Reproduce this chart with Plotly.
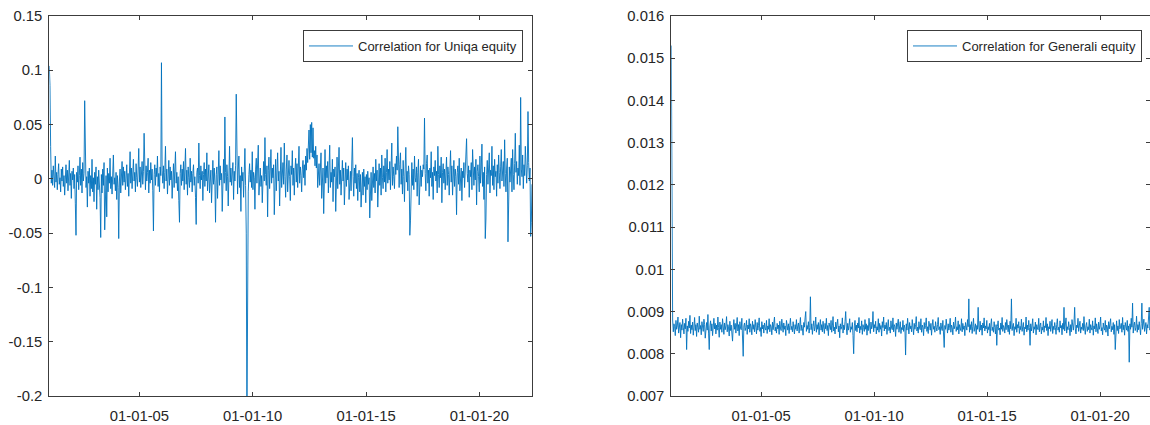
import pandas as pd
import plotly.graph_objects as go

# ---------------- data ----------------
date_start = "2001-01-10"
date_end = "2022-04-29"
n_points = 724

uniqa = [
    0.104, 0.086, 0.030, -0.004, 0.008, -0.006, 0.012, 0.002, -0.008, 0.021, -0.003, 0.006, -0.010, 0.004, 0.014, -0.005, 0.001, -0.012, 0.009, -0.002,
    0.011, -0.007, 0.003, -0.015, 0.006, 0.013, -0.004, 0.008, -0.011, 0.002, 0.017, -0.006, 0.005, -0.018, 0.007, -0.001, 0.010, -0.009, 0.004, -0.023,
    -0.052, 0.006, -0.003, 0.012, -0.010, 0.003, 0.020, -0.006, 0.009, -0.013, 0.015, -0.002, 0.005, 0.072, 0.011, -0.008, 0.002, -0.026, 0.007, -0.004,
    0.010, -0.016, 0.003, -0.009, 0.018, -0.012, 0.001, -0.021, 0.006, -0.005, 0.011, -0.028, 0.002, -0.010, 0.008, -0.003, -0.017, -0.054, 0.004, -0.013,
    0.009, -0.006, 0.015, -0.047, -0.008, 0.003, -0.035, 0.010, -0.012, 0.005, -0.004, 0.019, -0.009, 0.002, -0.014, 0.007, 0.022, -0.005, 0.001, -0.011,
    0.006, -0.019, 0.003, -0.008, -0.055, -0.002, 0.009, -0.013, 0.004, 0.016, -0.006, 0.011, -0.003, 0.007, -0.010, 0.002, 0.013, -0.007, 0.005, -0.016,
    0.008, 0.025, -0.004, 0.010, -0.009, 0.003, 0.018, -0.002, 0.006, -0.012, 0.014, 0.001, -0.007, 0.009, 0.028, -0.003, 0.011, -0.008, 0.004, 0.016,
    -0.005, 0.007, 0.042, 0.003, -0.010, 0.012, -0.002, 0.006, 0.019, -0.013, 0.008, -0.004, 0.015, -0.001, 0.009, -0.011, -0.048, 0.004, 0.013, -0.006,
    0.010, 0.002, 0.021, -0.007, 0.005, -0.012, 0.011, 0.003, 0.107, 0.008, -0.004, 0.012, -0.009, 0.006, 0.030, -0.002, 0.009, -0.014, 0.004, 0.017,
    -0.006, 0.011, -0.001, 0.007, -0.018, 0.003, 0.014, -0.008, 0.010, 0.025, -0.004, 0.006, -0.011, 0.002, -0.020, -0.040, 0.005, 0.013, -0.006, 0.009,
    -0.002, 0.016, -0.010, 0.004, 0.028, -0.005, 0.008, -0.015, 0.011, 0.001, -0.008, 0.019, -0.003, 0.007, -0.012, 0.005, 0.013, -0.006, 0.002, -0.017,
    -0.042, 0.006, 0.010, -0.004, 0.033, 0.003, -0.009, 0.012, -0.001, 0.007, -0.020, 0.004, 0.015, -0.007, 0.009, -0.002, 0.024, -0.011, 0.005, 0.013,
    -0.013, 0.002, 0.008, -0.022, 0.006, 0.017, -0.005, 0.010, -0.003, -0.040, 0.004, 0.011, -0.018, 0.007, 0.026, -0.006, 0.012, -0.001, 0.005, -0.030,
    0.009, 0.018, -0.004, 0.057, 0.006, -0.011, 0.013, 0.002, -0.025, 0.008, 0.030, -0.003, 0.010, -0.006, 0.004, 0.015, -0.019, 0.007, -0.002, 0.012,
    0.078, 0.005, -0.014, 0.009, 0.021, -0.008, 0.003, -0.030, 0.011, -0.002, 0.006, -0.017, 0.014, 0.028, -0.006, -0.050, -0.230, -0.020, -0.012, 0.004,
    0.014, -0.003, 0.008, -0.008, 0.025, -0.010, 0.006, 0.001, -0.028, 0.009, 0.019, -0.004, 0.011, 0.031, -0.015, 0.005, 0.010, -0.007, 0.003, -0.022,
    0.007, 0.016, -0.002, 0.038, 0.004, -0.006, 0.012, -0.035, 0.008, 0.020, -0.009, 0.005, 0.027, -0.004, 0.010, 0.001, 0.013, -0.033, 0.006, 0.018,
    -0.011, 0.009, 0.024, -0.002, 0.007, -0.025, 0.011, 0.029, -0.008, 0.004, 0.015, -0.005, 0.033, 0.002, -0.017, 0.009, 0.022, -0.012, 0.006, 0.017,
    0.002, -0.020, 0.012, 0.004, 0.026, -0.006, 0.010, -0.015, 0.008, 0.019, -0.003, 0.014, -0.008, 0.006, 0.030, -0.004, 0.011, 0.003, -0.012, 0.009,
    0.017, 0.001, 0.013, -0.006, 0.021, 0.008, 0.028, 0.015, 0.035, 0.045, 0.018, 0.050, 0.024, 0.052, 0.020, 0.047, 0.019, 0.026, 0.012, 0.030,
    0.010, 0.022, -0.008, 0.004, 0.014, -0.006, 0.009, 0.024, -0.018, 0.003, 0.010, -0.032, 0.007, 0.027, -0.004, 0.012, 0.001, 0.016, -0.013, 0.005,
    0.031, -0.008, 0.006, -0.003, 0.018, -0.021, 0.009, 0.002, 0.011, -0.030, 0.005, 0.020, -0.009, 0.013, 0.029, -0.005, 0.008, -0.015, 0.003, 0.017,
    -0.002, 0.010, -0.024, 0.004, 0.015, -0.007, 0.009, -0.001, 0.012, -0.019, 0.003, 0.007, -0.011, 0.006, 0.038, 0.002, -0.016, 0.010, -0.004, 0.013,
    -0.009, 0.005, -0.020, 0.001, 0.008, -0.012, 0.004, -0.026, -0.003, 0.006, -0.015, 0.009, -0.007, 0.002, -0.022, 0.004, -0.010, 0.007, -0.005, 0.001,
    -0.036, -0.004, 0.006, -0.020, 0.002, 0.011, -0.008, 0.005, -0.013, 0.018, -0.002, 0.008, -0.026, 0.004, 0.014, -0.006, 0.010, -0.015, 0.022, 0.001,
    -0.009, 0.012, -0.003, 0.019, -0.012, 0.006, 0.027, -0.004, 0.009, -0.001, 0.016, -0.010, 0.005, 0.033, -0.006, 0.011, 0.002, -0.009, 0.014, 0.004,
    0.021, 0.008, 0.048, 0.006, -0.008, 0.013, 0.024, -0.005, 0.009, -0.014, 0.017, 0.002, -0.021, 0.010, 0.029, -0.003, 0.007, -0.011, 0.012, 0.004,
    -0.052, -0.038, 0.003, 0.015, -0.006, 0.009, -0.010, 0.021, 0.001, -0.003, 0.011, -0.016, 0.006, 0.018, -0.024, 0.004, 0.012, -0.007, 0.008, 0.002,
    0.013, 0.009, 0.056, 0.005, -0.011, 0.014, 0.022, -0.004, 0.008, -0.016, 0.010, 0.001, 0.025, -0.007, 0.006, -0.019, 0.011, 0.003, 0.017, -0.002,
    0.007, -0.013, 0.030, 0.004, -0.008, 0.012, 0.001, 0.020, -0.022, 0.006, 0.014, -0.004, 0.009, -0.010, 0.002, 0.020, -0.006, 0.011, 0.004, -0.015,
    0.008, 0.026, -0.003, 0.012, -0.015, 0.005, 0.017, -0.007, 0.009, 0.002, -0.033, 0.006, 0.012, -0.005, 0.019, -0.011, 0.004, 0.010, -0.020, 0.007,
    0.001, 0.015, -0.008, 0.010, 0.023, 0.037, 0.005, -0.003, 0.012, -0.017, 0.008, 0.002, 0.015, -0.010, 0.027, 0.004, -0.006, 0.011, -0.001, 0.018,
    -0.024, 0.007, 0.013, 0.002, -0.012, 0.021, -0.004, 0.009, 0.032, -0.007, 0.006, -0.019, 0.011, -0.055, -0.037, 0.004, 0.017, -0.005, 0.010, 0.024,
    -0.013, 0.008, 0.003, 0.030, -0.006, 0.012, -0.010, 0.018, 0.002, 0.007, -0.016, 0.013, -0.004, 0.022, 0.006, -0.009, 0.011, 0.027, -0.002, 0.009,
    0.016, -0.007, 0.036, 0.005, -0.012, 0.010, 0.019, -0.058, 0.003, 0.011, -0.003, 0.008, 0.019, -0.012, 0.027, 0.004, -0.010, 0.014, 0.042, 0.006,
    0.016, -0.005, 0.010, 0.003, 0.031, -0.006, 0.075, 0.009, 0.002, 0.022, -0.009, 0.013, 0.003, 0.030, 0.008, -0.004, 0.012, 0.062, 0.015, -0.002,
    0.010, -0.053, -0.040, -0.005,
]

generali = [
    0.0153, 0.0114, 0.0088, 0.00852, 0.00871, 0.00864, 0.00843, 0.00879, 0.00858, 0.00866, 0.00887, 0.00849, 0.00861, 0.00874, 0.00838, 0.00869, 0.00856, 0.00882, 0.00863, 0.00847,
    0.00872, 0.00859, 0.00884, 0.0081, 0.00866, 0.00853, 0.00877, 0.00861, 0.00891, 0.00848, 0.00868, 0.00857, 0.00875, 0.00844, 0.00863, 0.00886, 0.00855, 0.00869, 0.00841, 0.00873,
    0.00862, 0.00851, 0.00889, 0.00858, 0.00867, 0.00845, 0.00876, 0.00864, 0.00853, 0.00882, 0.00869, 0.00837, 0.00861, 0.00874, 0.00856, 0.00893, 0.00849, 0.0081, 0.00866, 0.00878,
    0.00854, 0.00871, 0.00843, 0.00865, 0.00884, 0.00859, 0.00872, 0.00847, 0.00868, 0.00856, 0.00887, 0.00862, 0.00839, 0.00875, 0.00858, 0.00869, 0.00851, 0.00883, 0.00864, 0.00846,
    0.00873, 0.00857, 0.00866, 0.00888, 0.00852, 0.00869, 0.00861, 0.00842, 0.00877, 0.00855, 0.00868, 0.00834, 0.0083, 0.00863, 0.00881, 0.00858, 0.00872, 0.00849, 0.00865, 0.00886,
    0.00854, 0.00869, 0.00843, 0.00876, 0.00861, 0.00857, 0.00884, 0.00848, 0.00794, 0.00866, 0.00873, 0.00855, 0.00862, 0.00879, 0.00846, 0.00868, 0.00859, 0.00883, 0.00851, 0.00871,
    0.00864, 0.00845, 0.00877, 0.00858, 0.00869, 0.00852, 0.00881, 0.00863, 0.00847, 0.00874, 0.00856, 0.00867, 0.00885, 0.00853, 0.00862, 0.00841, 0.00876, 0.00859, 0.00868, 0.00849,
    0.00873, 0.00861, 0.00856, 0.00879, 0.00848, 0.00866, 0.00858, 0.00883, 0.00852, 0.00869, 0.00864, 0.00845, 0.00875, 0.00857, 0.00867, 0.00887, 0.00854, 0.00863, 0.00849, 0.00872,
    0.00859, 0.00868, 0.00846, 0.00877, 0.00861, 0.00855, 0.00882, 0.00864, 0.00851, 0.00873, 0.00858, 0.00866, 0.00843, 0.00879, 0.00862, 0.00856, 0.00871, 0.00848, 0.00867, 0.00884,
    0.00857, 0.00865, 0.00852, 0.00876, 0.00861, 0.00847, 0.00869, 0.00858, 0.00881, 0.00854, 0.00866, 0.00873, 0.00849, 0.00862, 0.00886, 0.00855, 0.00868, 0.00859, 0.00844, 0.00874,
    0.00863, 0.00885, 0.0090, 0.00853, 0.00867, 0.00858, 0.00876, 0.00849, 0.00862, 0.00935, 0.00857, 0.00871, 0.00846, 0.00865, 0.00878, 0.00854, 0.00863, 0.00887, 0.00851, 0.00869,
    0.00858, 0.00874, 0.00845, 0.00866, 0.00881, 0.00856, 0.00869, 0.00852, 0.00877, 0.00861, 0.00848, 0.00872, 0.00859, 0.00884, 0.00855, 0.00867, 0.00843, 0.00873, 0.00862, 0.00857,
    0.00879, 0.00851, 0.00866, 0.00888, 0.00854, 0.00863, 0.00847, 0.00875, 0.00859, 0.00869, 0.00882, 0.00852, 0.00866, 0.00838, 0.00871, 0.00858, 0.00864, 0.00885, 0.00849, 0.00868,
    0.00857, 0.00876, 0.0090, 0.00861, 0.00845, 0.00872, 0.00856, 0.00867, 0.00883, 0.00851, 0.00864, 0.00858, 0.00874, 0.00843, 0.0080, 0.00866, 0.00879, 0.00855, 0.00868, 0.00852,
    0.00873, 0.00861, 0.00886, 0.00849, 0.00865, 0.00857, 0.00878, 0.00846, 0.00869, 0.00862, 0.00853, 0.00881, 0.00858, 0.00871, 0.00844, 0.00867, 0.00855, 0.00884, 0.00863, 0.00848,
    0.00875, 0.00859, 0.00866, 0.0090, 0.00852, 0.00869, 0.00861, 0.00877, 0.00847, 0.00864, 0.00856, 0.00883, 0.00851, 0.00872, 0.00858, 0.00867, 0.00842, 0.00876, 0.00862, 0.00887,
    0.00854, 0.00868, 0.00859, 0.00874, 0.00846, 0.00866, 0.00881, 0.00855, 0.00863, 0.00849, 0.00878, 0.00861, 0.00857, 0.00885, 0.00852, 0.00869, 0.00864, 0.00841, 0.00873, 0.00858,
    0.00867, 0.00882, 0.00851, 0.00865, 0.00876, 0.00848, 0.00862, 0.00857, 0.00879, 0.00853, 0.00868, 0.00861, 0.00797, 0.00871, 0.00856, 0.00884, 0.00863, 0.00847, 0.00874, 0.00859,
    0.00866, 0.00852, 0.00881, 0.00864, 0.00845, 0.00872, 0.00858, 0.00869, 0.00888, 0.00854, 0.00863, 0.00849, 0.00876, 0.00861, 0.00857, 0.00883, 0.00851, 0.00868, 0.00862, 0.00843,
    0.00874, 0.00859, 0.00867, 0.00885, 0.00853, 0.00864, 0.00848, 0.00877, 0.00862, 0.00856, 0.00872, 0.00844, 0.00868, 0.00881, 0.00858, 0.00865, 0.00851, 0.00876, 0.00863, 0.00854,
    0.00869, 0.00886, 0.00857, 0.00864, 0.00846, 0.00873, 0.00861, 0.00855, 0.00879, 0.00852, 0.00815, 0.00867, 0.00858, 0.00882, 0.00863, 0.00849, 0.00871, 0.00856, 0.00866, 0.00884,
    0.00851, 0.00868, 0.00862, 0.00845, 0.00875, 0.00859, 0.00866, 0.00887, 0.00853, 0.00864, 0.00857, 0.00878, 0.00847, 0.00869, 0.00861, 0.00855, 0.00883, 0.00852, 0.00872, 0.00858,
    0.00866, 0.00843, 0.00874, 0.00861, 0.00856, 0.00881, 0.00864, 0.0093, 0.00851, 0.00869, 0.00857, 0.00876, 0.00848, 0.00865, 0.00884, 0.00853, 0.00862, 0.00871, 0.00846, 0.00867,
    0.00858, 0.0091, 0.00863, 0.00852, 0.00877, 0.00856, 0.00868, 0.00844, 0.00873, 0.00861, 0.00885, 0.00854, 0.00866, 0.00859, 0.00879, 0.00849, 0.00864, 0.00857, 0.00872, 0.00842,
    0.00868, 0.00883, 0.00855, 0.00863, 0.00851, 0.00876, 0.00862, 0.00847, 0.00869, 0.0082, 0.00865, 0.00878, 0.00856, 0.00861, 0.00845, 0.00873, 0.00858, 0.00886, 0.00853, 0.00867,
    0.00862, 0.00849, 0.00874, 0.00857, 0.00881, 0.00863, 0.00852, 0.00868, 0.00846, 0.00877, 0.00859, 0.0093, 0.00855, 0.00866, 0.00872, 0.00843, 0.00864, 0.00858, 0.00884, 0.00851,
    0.00869, 0.00861, 0.00876, 0.00848, 0.00865, 0.00857, 0.00882, 0.00853, 0.00867, 0.00874, 0.00844, 0.00863, 0.00859, 0.00887, 0.00852, 0.00868, 0.00856, 0.00879, 0.00862, 0.0082,
    0.00871, 0.00854, 0.00866, 0.00883, 0.00849, 0.00864, 0.00858, 0.00875, 0.00845, 0.00869, 0.00861, 0.00857, 0.00884, 0.00852, 0.00867, 0.00873, 0.00847, 0.00863, 0.00856, 0.00878,
    0.00851, 0.00866, 0.00862, 0.00886, 0.00855, 0.00871, 0.00843, 0.00864, 0.00859, 0.00877, 0.00853, 0.00868, 0.00881, 0.00848, 0.00865, 0.00857, 0.00874, 0.00862, 0.00846, 0.00869,
    0.00883, 0.00856, 0.00863, 0.00851, 0.00878, 0.00861, 0.00867, 0.00845, 0.00872, 0.00858, 0.0091, 0.00854, 0.00866, 0.00885, 0.00849, 0.00864, 0.00857, 0.00876, 0.00862, 0.00843,
    0.00869, 0.00852, 0.00881, 0.00865, 0.00856, 0.00873, 0.0091, 0.00859, 0.00847, 0.00868, 0.00862, 0.00884, 0.00853, 0.00866, 0.00877, 0.00849, 0.00863, 0.00858, 0.00872, 0.00855,
    0.00888, 0.00861, 0.00846, 0.00867, 0.00874, 0.00853, 0.00864, 0.00857, 0.00882, 0.00849, 0.00869, 0.00862, 0.00856, 0.00878, 0.00844, 0.00866, 0.00859, 0.00885, 0.00852, 0.00871,
    0.00863, 0.00848, 0.00875, 0.00858, 0.00866, 0.00887, 0.00854, 0.00862, 0.00845, 0.00873, 0.00861, 0.00856, 0.00879, 0.00851, 0.00868, 0.00864, 0.00842, 0.00876, 0.00859, 0.00867,
    0.00883, 0.00852, 0.00865, 0.00857, 0.00874, 0.00846, 0.00869, 0.0081, 0.00862, 0.00878, 0.00855, 0.00866, 0.00848, 0.00881, 0.00859, 0.00863, 0.00872, 0.00851, 0.00886, 0.00857,
    0.00868, 0.00844, 0.00874, 0.00862, 0.00856, 0.00879, 0.00853, 0.00866, 0.0078, 0.00871, 0.00858, 0.00884, 0.00863, 0.0092, 0.00849, 0.00867, 0.00875, 0.00855, 0.00862, 0.00889,
    0.00851, 0.00869, 0.00857, 0.00876, 0.00863, 0.00845, 0.00872, 0.0092, 0.00858, 0.00866, 0.00882, 0.00853, 0.00864, 0.00874, 0.00847, 0.00869, 0.00861, 0.00885, 0.0091, 0.00856,
    0.00868, 0.00852, 0.00874, 0.00861,
]

x_tick_dates = ["2005-01-01", "2010-01-01", "2015-01-01", "2020-01-01"]
x_tick_labels = ["01-01-05", "01-01-10", "01-01-15", "01-01-20"]

uniqa_ticks = [-0.2, -0.15, -0.1, -0.05, 0, 0.05, 0.1, 0.15]
uniqa_tick_labels = ["-0.2", "-0.15", "-0.1", "-0.05", "0", "0.05", "0.1", "0.15"]
generali_ticks = [0.007, 0.008, 0.009, 0.010, 0.011, 0.012, 0.013, 0.014, 0.015, 0.016]
generali_tick_labels = ["0.007", "0.008", "0.009", "0.01", "0.011", "0.012", "0.013", "0.014", "0.015", "0.016"]

uniqa_name = "Correlation for Uniqa equity"
generali_name = "Correlation for Generali equity"

dates = pd.date_range(date_start, date_end, periods=n_points)

# ---------------- style ----------------
W, H = 1150, 425
LINE_COLOR = "#0072BD"
AX_COLOR = "#3c3c3c"
TXT_COLOR = "#262626"
FONT = "Liberation Sans, Arial, sans-serif"

left_px = (49.3, 532.0)
right_px = (671.3, 1150.0)
ydom = [1 - 396 / H, 1 - 16 / H]

fig = go.Figure()
fig.add_trace(go.Scatter(x=dates, y=uniqa, mode="lines", name=uniqa_name,
                         line=dict(color=LINE_COLOR, width=0.9),
                         xaxis="x", yaxis="y", legend="legend"))
fig.add_trace(go.Scatter(x=dates, y=generali, mode="lines", name=generali_name,
                         line=dict(color=LINE_COLOR, width=0.9),
                         xaxis="x2", yaxis="y2", legend="legend2"))
fig.add_trace(go.Scatter(x=[], y=[], mode="lines", showlegend=False,
                         xaxis="x2", yaxis="y3", hoverinfo="skip"))

tickfont = dict(family=FONT, size=14.8, color=TXT_COLOR)
common_x = dict(type="date", tickvals=x_tick_dates, ticktext=x_tick_labels,
                ticks="inside", ticklen=4, tickcolor=AX_COLOR, showline=True,
                linecolor=AX_COLOR, linewidth=1, mirror="ticks", showgrid=False,
                zeroline=False, tickfont=tickfont, automargin=False,
                ticklabelstandoff=6)
common_y = dict(ticks="inside", ticklen=4, tickcolor=AX_COLOR, showline=True,
                linecolor=AX_COLOR, linewidth=1, showgrid=False, zeroline=False,
                tickfont=tickfont, automargin=False, ticklabelstandoff=3)

legend_common = dict(yanchor="top", y=1 - 30 / H, xanchor="right",
                     bgcolor="white", bordercolor=AX_COLOR, borderwidth=1,
                     itemwidth=44,
                     font=dict(family=FONT, size=13, color=TXT_COLOR))

fig.update_layout(
    width=W, height=H,
    margin=dict(l=0, r=0, t=0, b=0),
    paper_bgcolor="white", plot_bgcolor="white",
    showlegend=True,
    xaxis=dict(domain=[left_px[0] / W, left_px[1] / W], anchor="y",
               range=[date_start, date_end], **common_x),
    yaxis=dict(domain=ydom, anchor="x", range=[-0.2, 0.15],
               tickvals=uniqa_ticks, ticktext=uniqa_tick_labels,
               mirror="ticks", **common_y),
    xaxis2=dict(domain=[right_px[0] / W, right_px[1] / W], anchor="y2",
                range=[date_start, "2022-03-19"], **common_x),
    yaxis2=dict(domain=ydom, anchor="x2", range=[0.007, 0.016],
                tickvals=generali_ticks, ticktext=generali_tick_labels,
                mirror=False, **common_y),
    yaxis3=dict(overlaying="y2", anchor="x2", side="right", range=[0.007, 0.016],
                tickvals=generali_ticks, showticklabels=False, ticks="inside",
                ticklen=4, tickcolor=AX_COLOR, showline=False, showgrid=False,
                zeroline=False),
    legend=dict(x=523 / W, **legend_common),
    legend2=dict(x=1142 / W, **legend_common),
)

fig.write_html("out.html", config={"displayModeBar": False},
               post_script="document.body.style.margin='0';")
